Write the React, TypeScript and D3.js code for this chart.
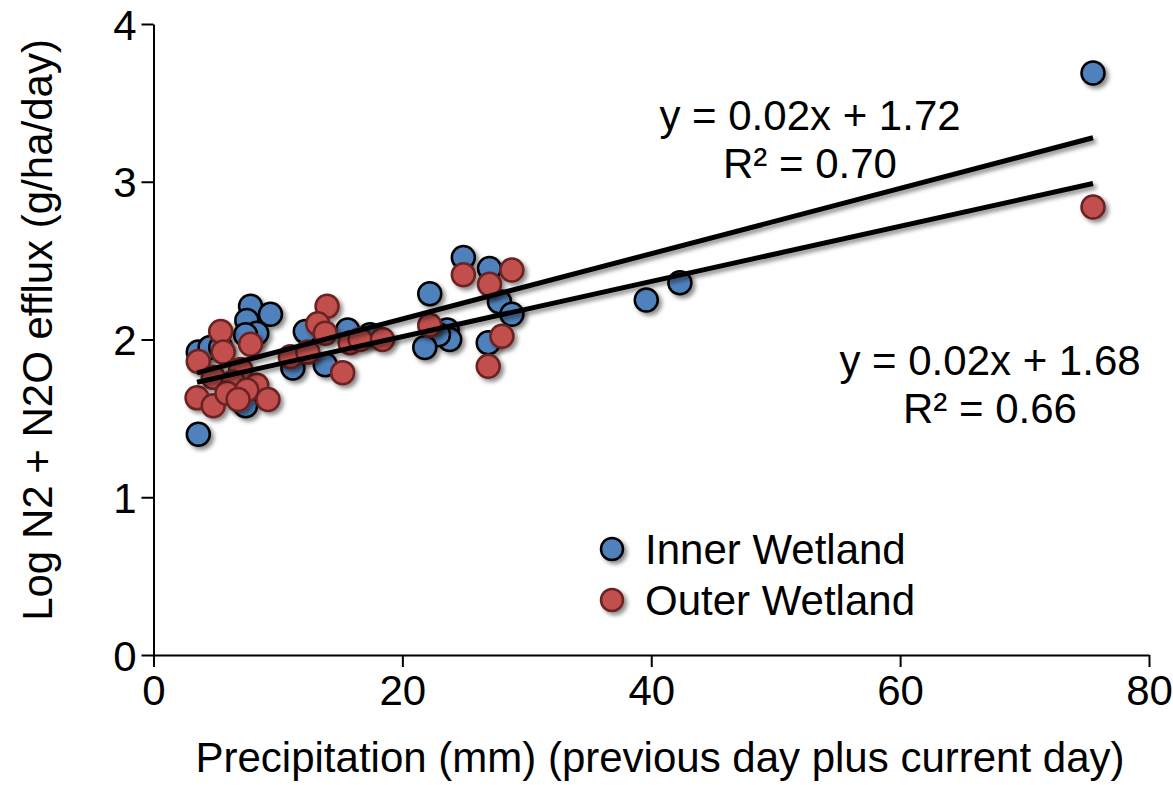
import React, { useEffect, useRef } from "react";
import * as d3 from "d3";

// Inner Wetland points: [precipitation mm, log efflux]
const innerPoints = [
  [75.5, 3.69], [42.3, 2.36], [39.6, 2.25], [3.6, 1.4],
  [24.9, 2.52], [27.0, 2.45], [22.2, 2.29], [27.8, 2.24], [28.8, 2.16],
  [23.6, 2.06], [23.8, 2.0], [22.9, 2.03], [21.8, 1.95], [26.9, 1.98],
  [12.2, 2.05], [15.6, 2.06], [17.4, 2.03], [11.2, 1.82], [13.8, 1.84],
  [7.8, 2.21], [9.4, 2.16], [7.5, 2.12], [8.3, 2.04], [7.4, 2.03],
  [3.6, 1.92], [4.55, 1.95], [5.4, 1.95], [7.2, 1.63], [7.0, 1.61], [7.4, 1.58],
];

// Outer Wetland points
const outerPoints = [
  [75.5, 2.84], [24.9, 2.41], [28.8, 2.44], [27.0, 2.35], [22.2, 2.09],
  [28.0, 2.02], [26.9, 1.83],
  [13.95, 2.21], [13.2, 2.1], [13.8, 2.04], [15.8, 1.98], [16.6, 2.0],
  [18.4, 2.0], [11.0, 1.89], [12.4, 1.92], [15.2, 1.79],
  [5.4, 2.05], [7.8, 1.97], [5.6, 1.92], [3.6, 1.86], [7.0, 1.81],
  [4.8, 1.76], [6.4, 1.73], [8.3, 1.71], [3.5, 1.63], [4.8, 1.58],
  [5.9, 1.66], [7.5, 1.68], [9.2, 1.62], [6.8, 1.62],
];

// linear trend lines: [slope, intercept, x from, x to]
const innerTrend = [0.0207, 1.716, 3.5, 75.5];
const outerTrend = [0.0175, 1.668, 3.5, 75.5];

const xTicks = [0, 20, 40, 60, 80];
const yTicks = [0, 1, 2, 3, 4];

const innerLabel = ["y = 0.02x + 1.72", "R² = 0.70"];
const outerLabel = ["y = 0.02x + 1.68", "R² = 0.66"];
const legendNames = ["Inner Wetland", "Outer Wetland"];

const FONT = "'Liberation Sans', Arial, sans-serif";

const App = () => {
  const svgRef = useRef(null);
  const width = 1173;
  const height = 785;

  useEffect(() => {
    const svg = d3.select(svgRef.current);
    svg.selectAll("*").remove();

    const x = d3.scaleLinear().domain([0, 80]).range([153.5, 1149]);
    const y = d3.scaleLinear().domain([0, 4]).range([655, 24]);

    const defs = svg.append("defs");
    const f = defs.append("filter").attr("id", "shadow")
      .attr("x", "-50%").attr("y", "-50%").attr("width", "200%").attr("height", "200%");
    f.append("feDropShadow")
      .attr("dx", 3).attr("dy", 3).attr("stdDeviation", 2)
      .attr("flood-color", "#000").attr("flood-opacity", 0.45);

    // axes
    const yAxis = svg.append("g")
      .attr("transform", `translate(${x(0)},0)`)
      .call(d3.axisLeft(y).tickValues(yTicks).tickFormat(d3.format("d")).tickSize(12).tickSizeOuter(0).tickPadding(5));
    yAxis.selectAll("text").style("font-size", "42px").style("font-family", FONT).attr("dy", "0.36em");

    const xAxis = svg.append("g")
      .attr("transform", `translate(0,${y(0)})`)
      .call(d3.axisBottom(x).tickValues(xTicks).tickFormat(d3.format("d")).tickSize(12).tickSizeOuter(0).tickPadding(8));
    xAxis.selectAll("text").style("font-size", "42px").style("font-family", FONT);

    svg.selectAll(".domain, .tick line").attr("stroke", "#000").attr("stroke-width", 2);
    svg.selectAll(".tick text").attr("fill", "#000");

    // points
    const drawPoints = (pts, fill, stroke) => {
      svg.append("g")
        .attr("filter", "url(#shadow)")
        .selectAll("circle")
        .data(pts)
        .enter()
        .append("circle")
        .attr("cx", (d) => x(d[0]))
        .attr("cy", (d) => y(d[1]))
        .attr("r", 11.5)
        .attr("fill", fill)
        .attr("stroke", stroke)
        .attr("stroke-width", 2.5);
    };
    drawPoints(innerPoints, "#4F81BD", "#000");
    drawPoints(outerPoints, "#C0504D", "#6B2220");

    // trend lines
    const line = d3.line().x((d) => x(d[0])).y((d) => y(d[1]));
    [innerTrend, outerTrend].forEach((t) => {
      const [m, b, x0, x1] = t;
      svg.append("path")
        .attr("d", line([[x0, m * x0 + b], [x1, m * x1 + b]]))
        .attr("stroke", "#000")
        .attr("stroke-width", 5)
        .attr("fill", "none")
        .attr("filter", "url(#shadow)");
    });

    // equation labels
    const label = (lines, cx, y0) => {
      lines.forEach((s, i) => {
        svg.append("text")
          .attr("x", cx).attr("y", y0 + i * 48)
          .attr("text-anchor", "middle")
          .style("font-size", "42px").style("font-family", FONT)
          .text(s);
      });
    };
    label(innerLabel, 810, 130);
    label(outerLabel, 990, 375);

    // legend
    const legendColors = [["#4F81BD", "#000"], ["#C0504D", "#6B2220"]];
    legendNames.forEach((name, i) => {
      const ly = 549 + i * 51;
      svg.append("circle")
        .attr("cx", 612).attr("cy", ly).attr("r", 11)
        .attr("fill", legendColors[i][0]).attr("stroke", legendColors[i][1])
        .attr("stroke-width", 2.5)
        .attr("filter", "url(#shadow)");
      svg.append("text")
        .attr("x", 645).attr("y", ly + 15)
        .style("font-size", "42px").style("font-family", FONT)
        .text(name);
    });

    // axis titles
    svg.append("text")
      .attr("x", 660).attr("y", 772)
      .attr("text-anchor", "middle")
      .style("font-size", "42px").style("font-family", FONT)
      .text("Precipitation (mm) (previous day plus current day)");

    svg.append("text")
      .attr("transform", "translate(52,330) rotate(-90)")
      .attr("text-anchor", "middle")
      .style("font-size", "42px").style("font-family", FONT)
      .text("Log N2 + N2O efflux (g/ha/day)");
  }, []);

  return (
    <svg
      ref={svgRef}
      width={width}
      height={height}
      style={{ position: "absolute", left: 0, top: 0, background: "#fff" }}
    ></svg>
  );
};

export default App;
